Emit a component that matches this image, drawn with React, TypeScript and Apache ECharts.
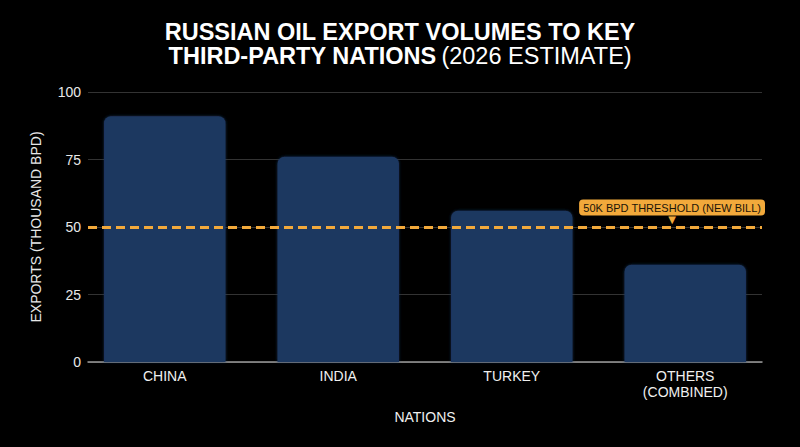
import { useEffect, useRef } from 'react'
import * as echarts from 'echarts'

const nations = ['CHINA', 'INDIA', 'TURKEY', 'OTHERS\n(COMBINED)']
const exportVolumes = [91, 76, 56, 36]
const thresholdValue = 50
const thresholdLabel = '50K BPD THRESHOLD (NEW BILL)'
const yTicks = { min: 0, max: 100, interval: 25 }

const BAR_COLOR = '#1f3761'
const ACCENT = '#f2a93b'
const FONT = '"Liberation Sans", Arial, sans-serif'

export default function App() {
  const chartRef = useRef<HTMLDivElement>(null)

  useEffect(() => {
    if (!chartRef.current) return
    document.body.style.margin = '0'
    document.body.style.background = '#000000'
    const chart = echarts.init(chartRef.current, null, { renderer: 'svg' })

    const option: echarts.EChartsOption = {
      animation: false,
      backgroundColor: '#000000',
      textStyle: { fontFamily: FONT },
      title: {
        left: 'center',
        top: 15,
        text: '{b|RUSSIAN OIL EXPORT VOLUMES TO KEY}\n{b|THIRD-PARTY NATIONS} {n|(2026 ESTIMATE)}',
        textStyle: {
          rich: {
            b: { fontSize: 23.5, fontWeight: 'bold', color: '#ffffff', lineHeight: 24, fontFamily: FONT },
            n: { fontSize: 23.5, fontWeight: 'normal', color: '#ffffff', lineHeight: 24, fontFamily: FONT },
          },
        },
      },
      grid: [
        // frame: gridlines, y labels, axis line, threshold
        { left: 88, right: 38, top: 92, bottom: 85 },
        // bars + category labels
        { left: 78, right: 28, top: 92, bottom: 85 },
      ],
      xAxis: [
        {
          type: 'category',
          gridIndex: 0,
          data: nations,
          boundaryGap: true,
          axisLine: { show: true, lineStyle: { color: '#9a9a9a', width: 1.5 } },
          axisTick: { show: false },
          axisLabel: { show: false },
        },
        {
          type: 'category',
          gridIndex: 1,
          data: nations,
          axisLine: { show: false },
          axisTick: { show: false },
          axisLabel: {
            color: '#f0f0f0',
            fontSize: 14,
            margin: 6,
            lineHeight: 16,
            fontFamily: FONT,
          },
          name: 'NATIONS',
          nameLocation: 'middle',
          nameGap: 48,
          nameTextStyle: { color: '#f0f0f0', fontSize: 14, fontFamily: FONT },
        },
      ],
      yAxis: [
        {
          type: 'value',
          gridIndex: 0,
          ...yTicks,
          axisLine: { show: false },
          axisTick: { show: false },
          axisLabel: { color: '#e8e8e8', fontSize: 14, margin: 7, fontFamily: FONT },
          splitLine: { lineStyle: { color: '#333333', width: 1 } },
          name: 'EXPORTS (THOUSAND BPD)',
          nameLocation: 'middle',
          nameGap: 45,
          nameRotate: 90,
          nameTextStyle: { color: '#e8e8e8', fontSize: 14, fontFamily: FONT },
        },
        {
          type: 'value',
          gridIndex: 1,
          ...yTicks,
          show: false,
          splitLine: { show: false },
        },
      ],
      series: [
        {
          type: 'bar',
          xAxisIndex: 1,
          yAxisIndex: 1,
          data: exportVolumes,
          barWidth: '70%',
          itemStyle: {
            color: BAR_COLOR,
            borderRadius: [7, 7, 0, 0],
            shadowColor: 'rgba(31,55,97,0.8)',
            shadowBlur: 3,
          },
          z: 2,
        },
        {
          type: 'line',
          xAxisIndex: 0,
          yAxisIndex: 0,
          data: [],
          z: 5,
          markLine: {
            silent: true,
            symbol: 'none',
            lineStyle: { color: ACCENT, type: [9, 5], width: 3 },
            label: {
              position: 'insideEndTop',
              distance: [-3, 6],
              formatter: `{box|${thresholdLabel}}\n{arrow|▼}`,
              rich: {
                box: {
                  backgroundColor: ACCENT,
                  borderRadius: 4,
                  padding: [3, 4, 2, 4],
                  color: '#1a1408',
                  fontSize: 11,
                  lineHeight: 13,
                  fontFamily: FONT,
                },
                arrow: {
                  color: ACCENT,
                  fontSize: 10,
                  lineHeight: 7,
                  align: 'center',
                  verticalAlign: 'top',
                  fontFamily: '"DejaVu Sans", sans-serif',
                },
              },
            },
            data: [{ yAxis: thresholdValue }],
          },
        },
      ],
    }

    chart.setOption(option)
    return () => chart.dispose()
  }, [])

  return <div ref={chartRef} style={{ width: 800, height: 447 }} />
}
